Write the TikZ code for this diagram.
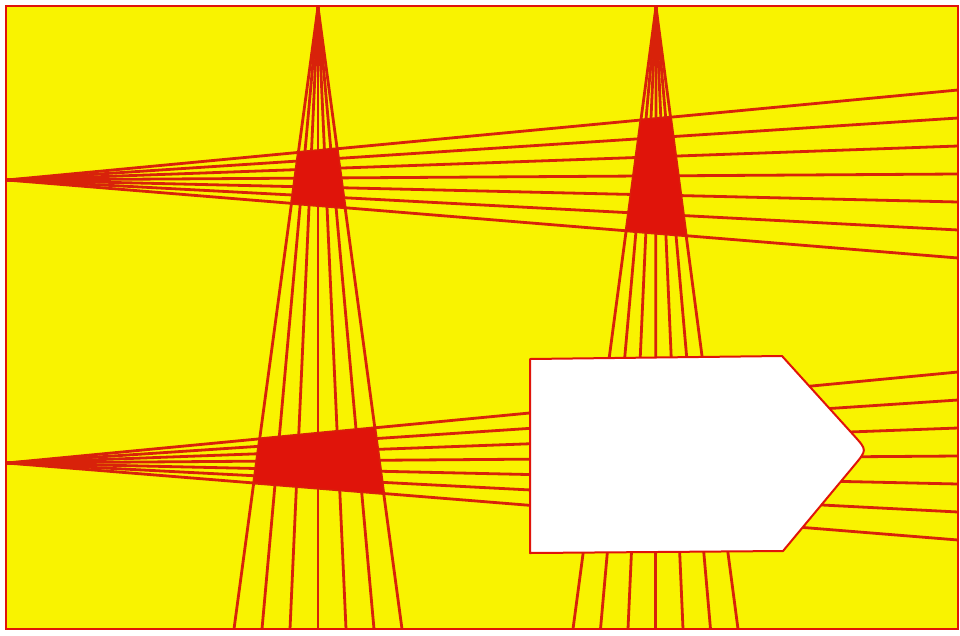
\documentclass[tikz,border=0pt]{standalone}
\usepackage{tikz}
\usetikzlibrary{calc}
\definecolor{paper}{HTML}{F9F300}
\definecolor{ink}{HTML}{E0140A}
\definecolor{rayink}{HTML}{D8220A}

\begin{document}
\begin{tikzpicture}[x=1pt,y=-1pt,ray/.style={rayink,line width=2.8pt}]
\useasboundingbox (0,0) rectangle (960,635);
\fill[white] (0,0) rectangle (960,635);
% board
\fill[paper] (6,6) rectangle (958,629);
% apexes of the four fans
\coordinate (top1) at (318,7);
\coordinate (top2) at (656,7);
\coordinate (left1) at (7,180);
\coordinate (left2) at (7,463);
% outer rays, used for the overlaps
\coordinate (t1a) at (234,629); \coordinate (t1b) at (402,629);
\coordinate (t2a) at (573,629); \coordinate (t2b) at (738,629);
\coordinate (l1a) at (958,90); \coordinate (l1b) at (958,258);
\coordinate (l2a) at (958,372); \coordinate (l2b) at (958,540);
% rays
\begin{scope}
\clip (6,6) rectangle (958,629);
\foreach \k in {-3,...,3}{
  \draw[ray] (top1) -- (318+\k*28,629);
  \draw[ray] (top2) -- (655.5+\k*27.5,629);
  \draw[ray] (left1) -- (958,174+\k*28);
  \draw[ray] (left2) -- (958,456+\k*28);
}
\end{scope}
% overlaps
\fill[ink] (intersection of top1--t1a and left1--l1a) -- (intersection of top1--t1b and left1--l1a)
  -- (intersection of top1--t1b and left1--l1b) -- (intersection of top1--t1a and left1--l1b) -- cycle;
\fill[ink] (intersection of top2--t2a and left1--l1a) -- (intersection of top2--t2b and left1--l1a)
  -- (intersection of top2--t2b and left1--l1b) -- (intersection of top2--t2a and left1--l1b) -- cycle;
\fill[ink] (intersection of top1--t1a and left2--l2a) -- (intersection of top1--t1b and left2--l2a)
  -- (intersection of top1--t1b and left2--l2b) -- (intersection of top1--t1a and left2--l2b) -- cycle;
% white block
\filldraw[fill=white,draw=ink,line width=2pt,line join=round] (530,359) -- (782,356) -- (854.3,435.9)
  .. controls (867,450) .. (854.4,465.2) -- (783,551) -- (530,553) -- cycle;
% frame
\draw[ink,line width=2pt] (6,6) rectangle (958,629);
\end{tikzpicture}
\end{document}
